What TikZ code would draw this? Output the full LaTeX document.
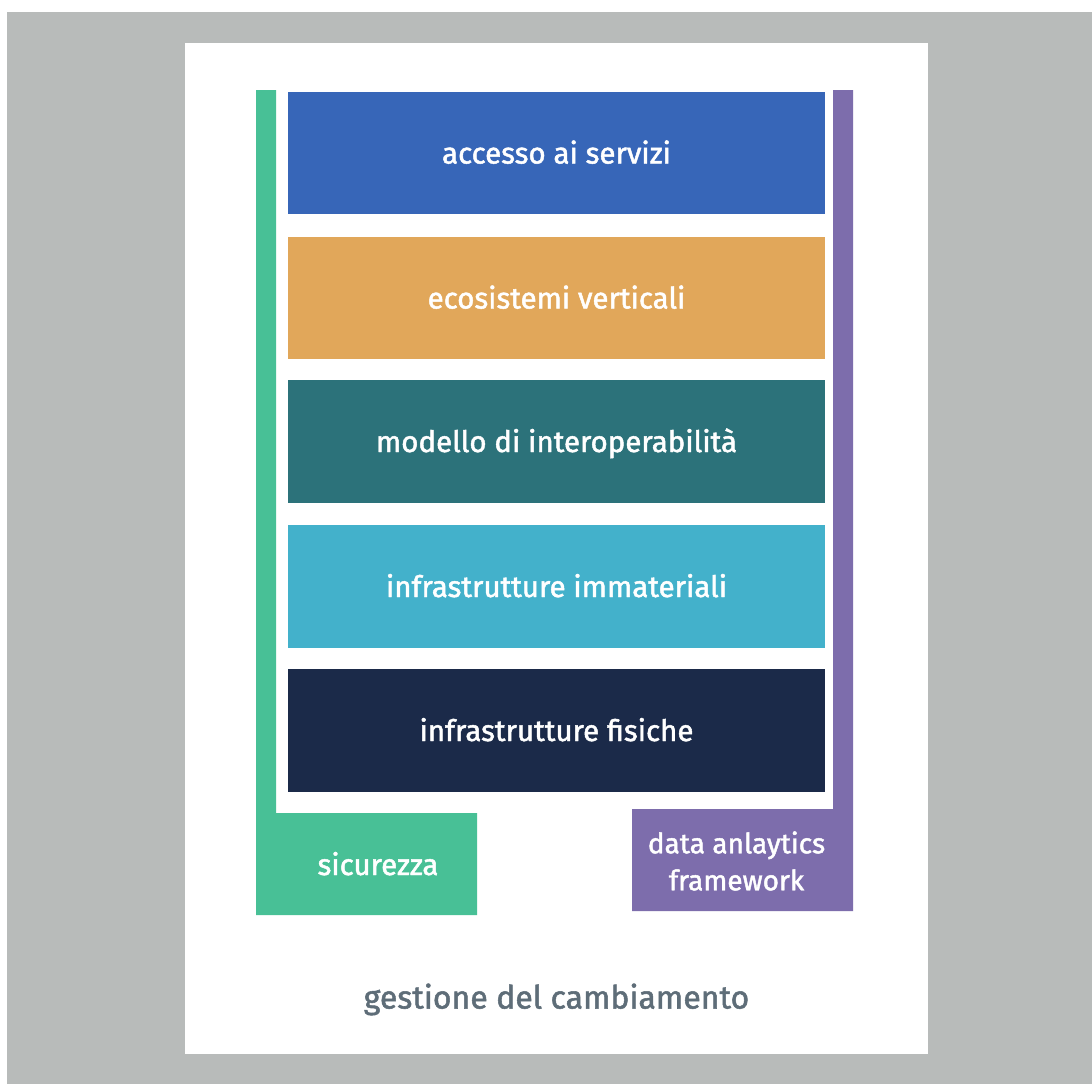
\documentclass[tikz,border=0pt]{standalone}
\usepackage{fontspec}
\setmainfont{Fira Sans}
\newfontfamily\etichetta[FakeBold=1.6]{Fira Sans}
\definecolor{sfondo}{HTML}{B8BBBA}
\definecolor{blu}{HTML}{3766B8}
\definecolor{arancio}{HTML}{E1A75A}
\definecolor{petrolio}{HTML}{2C727A}
\definecolor{azzurro}{HTML}{43B1CB}
\definecolor{notte}{HTML}{1B2A49}
\definecolor{verde}{HTML}{48C096}
\definecolor{viola}{HTML}{7D6DAC}
\definecolor{grigio}{HTML}{5E6D78}
\begin{document}
\begin{tikzpicture}
[x=1pt, y=-1pt,
 layer/.style ={rectangle, inner sep=0pt, minimum width=537pt, minimum height=122.5pt,
 text height=21pt, text depth=0pt, text=white, font=\etichetta\fontsize{29.5}{34}\selectfont},
 tag/.style ={inner sep=0pt, align=center, text=white, font=\etichetta\fontsize{29.5}{37}\selectfont},
 title/.style ={inner sep=0pt, text=grigio, font=\etichetta\fontsize{32}{36}\selectfont}]
\useasboundingbox (0,0) rectangle (1092,1084);
\fill[white] (0,0) rectangle (1092,1084);
\fill[sfondo] (7,12) rectangle (1092,1084);
\fill[white] (185,43) rectangle (928,1054);
\path (556.5,153) node[layer, fill=blu] (A) {accesso ai servizi}
      (556.5,298) node[layer, fill=arancio] (B) {ecosistemi verticali}
      (556.5,441.5) node[layer, fill=petrolio] (C) {modello di interoperabilità}
      (556.5,586.5) node[layer, fill=azzurro] (D) {infrastrutture immateriali}
      (556.5,730.5) node[layer, fill=notte] (E) {infrastrutture fisiche};
\fill[verde] (256,90) -- (276,90) -- (276,813) -- (477,813) -- (477,915) -- (256,915) -- cycle;
\fill[viola] (833,90) -- (853,90) -- (853,911) -- (632,911) -- (632,809) -- (833,809) -- cycle;
\path (378,875) node[tag, anchor=base] (S) {sicurezza}
      (736.5,861) node[tag, font=\etichetta\fontsize{28}{37}\selectfont] (F) {data anlaytics\\framework}
      (556.5,1008.5) node[title, anchor=base] (G) {gestione del cambiamento};
\end{tikzpicture}
\end{document}
